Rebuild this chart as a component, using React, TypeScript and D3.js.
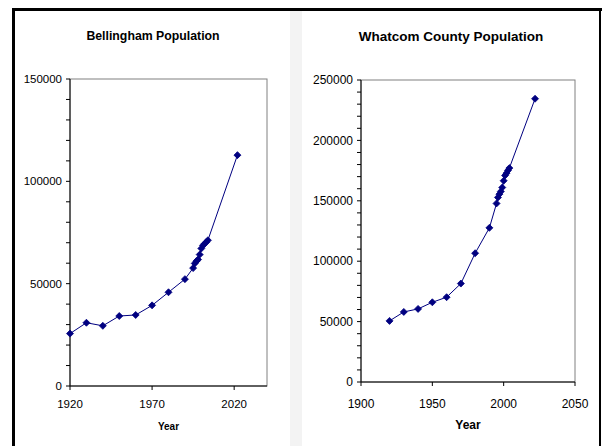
import React from "react";
import * as d3 from "d3";

const bellYears = [1920, 1930, 1940, 1950, 1960, 1970, 1980, 1990, 1995, 1996, 1997, 1998, 1999, 2000, 2001, 2002, 2003, 2004, 2022];
const bellPop = [25600, 30900, 29400, 34200, 34700, 39400, 45800, 52200, 57600, 59900, 61000, 61800, 64200, 67200, 68700, 69500, 70300, 71200, 112800];

const whatYears = [1920, 1930, 1940, 1950, 1960, 1970, 1980, 1990, 1995, 1996, 1997, 1998, 1999, 2000, 2001, 2002, 2003, 2004, 2022];
const whatPop = [50600, 58000, 60500, 66000, 70200, 81500, 106600, 127600, 147800, 152800, 155500, 157700, 161000, 166600, 171000, 172900, 175100, 177100, 234500];

const bellXTicks = [1920, 1970, 2020];
const bellYTicks = [0, 50000, 100000, 150000];
const whatXTicks = [1900, 1950, 2000, 2050];
const whatYTicks = [0, 50000, 100000, 150000, 200000, 250000];

const NAVY = "#000080";
const FONT = "'Liberation Sans', Arial, sans-serif";

type PanelProps = {
  title: string;
  titleX: number;
  titleY: number;
  titleSize: number;
  years: number[];
  pop: number[];
  xDomain: [number, number];
  yDomain: [number, number];
  xRange: [number, number];
  yRange: [number, number];
  xTicks: number[];
  yTicks: number[];
  minorStep: number;
  fontSize: number;
  xLabelY: number;
  yearX: number;
  yearY: number;
  yearSize: number;
};

const MK = 3.5;
const diamond = `M0,${-MK}L${MK},0L0,${MK}L${-MK},0Z`;

function Panel(p: PanelProps) {
  const x = d3.scaleLinear().domain(p.xDomain).range(p.xRange);
  const y = d3.scaleLinear().domain(p.yDomain).range(p.yRange);
  const pts = p.years.map((yr, i) => [yr, p.pop[i]] as [number, number]);
  const line = d3.line<[number, number]>().x((d) => x(d[0])).y((d) => y(d[1]));
  const minor = d3.range(p.yDomain[0], p.yDomain[1] + 1, p.minorStep);
  const [x0, x1] = p.xRange;
  const [y0, y1] = p.yRange;
  return (
    <g>
      <text x={p.titleX} y={p.titleY} textAnchor="middle" fontFamily={FONT} fontWeight="bold" fontSize={p.titleSize} fill="#000">
        {p.title}
      </text>
      <rect x={x0} y={y1} width={x1 - x0} height={y0 - y1} fill="#fff" stroke="#808080" strokeWidth={1} />
      {minor.map((v) => (
        <line key={"m" + v} x1={x0 - 4} x2={x0} y1={y(v)} y2={y(v)} stroke="#000" strokeWidth={1} />
      ))}
      {p.yTicks.map((v) => (
        <text key={"yt" + v} x={x0 - 8} y={y(v)} dy="0.35em" textAnchor="end" fontFamily={FONT} fontSize={p.fontSize} fill="#000">
          {v}
        </text>
      ))}
      {p.xTicks.map((v) => (
        <g key={"xt" + v}>
          <line x1={x(v)} x2={x(v)} y1={y0} y2={y0 + 4} stroke="#000" strokeWidth={1} />
          <text x={x(v)} y={p.xLabelY} textAnchor="middle" fontFamily={FONT} fontSize={p.fontSize} fill="#000">
            {v}
          </text>
        </g>
      ))}
      <line x1={x0} x2={x0} y1={y1} y2={y0} stroke="#000" strokeWidth={1} />
      <line x1={x0} x2={x1} y1={y0} y2={y0} stroke="#000" strokeWidth={1} />
      <path d={line(pts)!} fill="none" stroke={NAVY} strokeWidth={1} />
      {pts.map((d, i) => (
        <path key={"pt" + i} d={diamond} transform={`translate(${x(d[0])},${y(d[1])})`} fill={NAVY} stroke={NAVY} strokeWidth={0.8} />
      ))}
      <text x={p.yearX} y={p.yearY} textAnchor="middle" fontFamily={FONT} fontWeight="bold" fontSize={p.yearSize} fill="#000">
        Year
      </text>
    </g>
  );
}

export default function App() {
  return (
    <svg width={602} height={446} style={{ position: "absolute", left: 0, top: 0 }}>
      <rect x={0} y={0} width={602} height={446} fill="#fff" />
      <rect x={290} y={11} width={12} height={435} fill="#f3f3f3" />
      <rect x={12} y={8} width={590} height={3} fill="#000" />
      <rect x={12} y={8} width={3} height={438} fill="#000" />
      <rect x={599} y={8} width={2} height={438} fill="#000" />
      <Panel
        title="Bellingham Population"
        titleX={153}
        titleY={40}
        titleSize={12.3}
        years={bellYears}
        pop={bellPop}
        xDomain={[1920, 2040]}
        yDomain={[0, 150000]}
        xRange={[70, 267]}
        yRange={[386, 79]}
        xTicks={bellXTicks}
        yTicks={bellYTicks}
        minorStep={10000}
        fontSize={11.5}
        xLabelY={408}
        yearX={168.5}
        yearY={430}
        yearSize={10}
      />
      <Panel
        title="Whatcom County Population"
        titleX={451}
        titleY={41}
        titleSize={13.5}
        years={whatYears}
        pop={whatPop}
        xDomain={[1900, 2050]}
        yDomain={[0, 250000]}
        xRange={[361, 575]}
        yRange={[382, 80]}
        xTicks={whatXTicks}
        yTicks={whatYTicks}
        minorStep={10000}
        fontSize={12}
        xLabelY={408}
        yearX={468}
        yearY={429}
        yearSize={12}
      />
    </svg>
  );
}
